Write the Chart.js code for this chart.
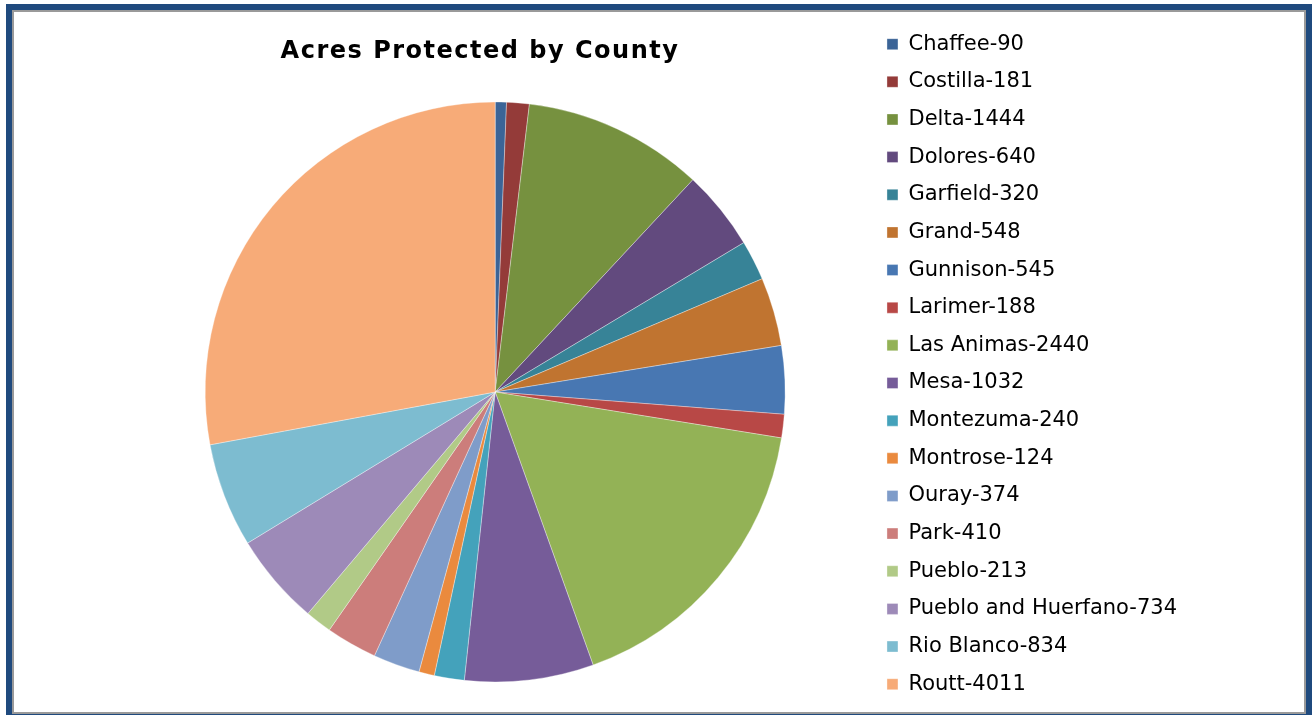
<!DOCTYPE html>
<html>
<head>
<meta charset="utf-8">
<script src="https://cdn.jsdelivr.net/npm/chart.js@4/dist/chart.umd.min.js"></script>
<style>
  html, body { margin: 0; padding: 0; width: 1314px; height: 715px; overflow: hidden; background: #ffffff; }
  .frame {
    position: absolute; left: 6px; top: 4px; width: 1306px; height: 716px;
    box-sizing: border-box; border: 6px solid #1f4a7e; z-index: 2; pointer-events: none;
  }
  .frame::after {
    content: ''; position: absolute; left: 0; top: 0; right: 0; bottom: 0;
    border: 2px solid #9a9a9a;
  }
  .title {
    position: absolute; left: 230px; top: 36px; width: 500px; text-align: center;
    font-family: "DejaVu Sans", sans-serif; font-weight: bold; letter-spacing: 1.5px;
    font-size: 24px; color: #000; z-index: 3;
  }
  #chartWrap { position: absolute; left: 120px; top: 17px; }
</style>
</head>
<body>
<div class="frame"></div>
<div class="title">Acres Protected by County</div>
<div id="chartWrap"><canvas id="countyPie" width="1067" height="750"></canvas></div>
<script>
// acres protected, one entry per county
const counties = ['Chaffee', 'Costilla', 'Delta', 'Dolores', 'Garfield', 'Grand', 'Gunnison', 'Larimer',
  'Las Animas', 'Mesa', 'Montezuma', 'Montrose', 'Ouray', 'Park', 'Pueblo', 'Pueblo and Huerfano',
  'Rio Blanco', 'Routt'];
const acres = [90, 181, 1444, 640, 320, 548, 545, 188, 2440, 1032, 240, 124, 374, 410, 213, 734, 834, 4011];
const sliceColors = ['#3b6497', '#943b39', '#76913f', '#624a7e', '#378397', '#c07430', '#4877b2', '#b84846',
  '#93b256', '#765c99', '#44a2bb', '#ea8a3e', '#7f9cc9', '#cc7d7b', '#b1ca87', '#9d8ab8', '#7dbcd0', '#f7ab78'];

const legendLabels = counties.map((c, i) => `${c}-${acres[i]}`);

const ctx = document.getElementById('countyPie').getContext('2d');
new Chart(ctx, {
  type: 'pie',
  data: {
    labels: legendLabels,
    datasets: [{
      data: acres,
      backgroundColor: sliceColors,
      borderColor: 'rgba(255,255,255,0.45)',
      borderWidth: 0.75
    }]
  },
  options: {
    responsive: false,
    animation: false,
    radius: 290,
    plugins: {
      title: { display: false },
      tooltip: { enabled: false },
      legend: {
        position: 'right',
        align: 'start',
        labels: {
          boxWidth: 11,
          boxHeight: 11,
          padding: 16.65,
          color: '#000000',
          font: { family: '"DejaVu Sans", sans-serif', size: 21 }
        }
      }
    }
  }
});
</script>
</body>
</html>
